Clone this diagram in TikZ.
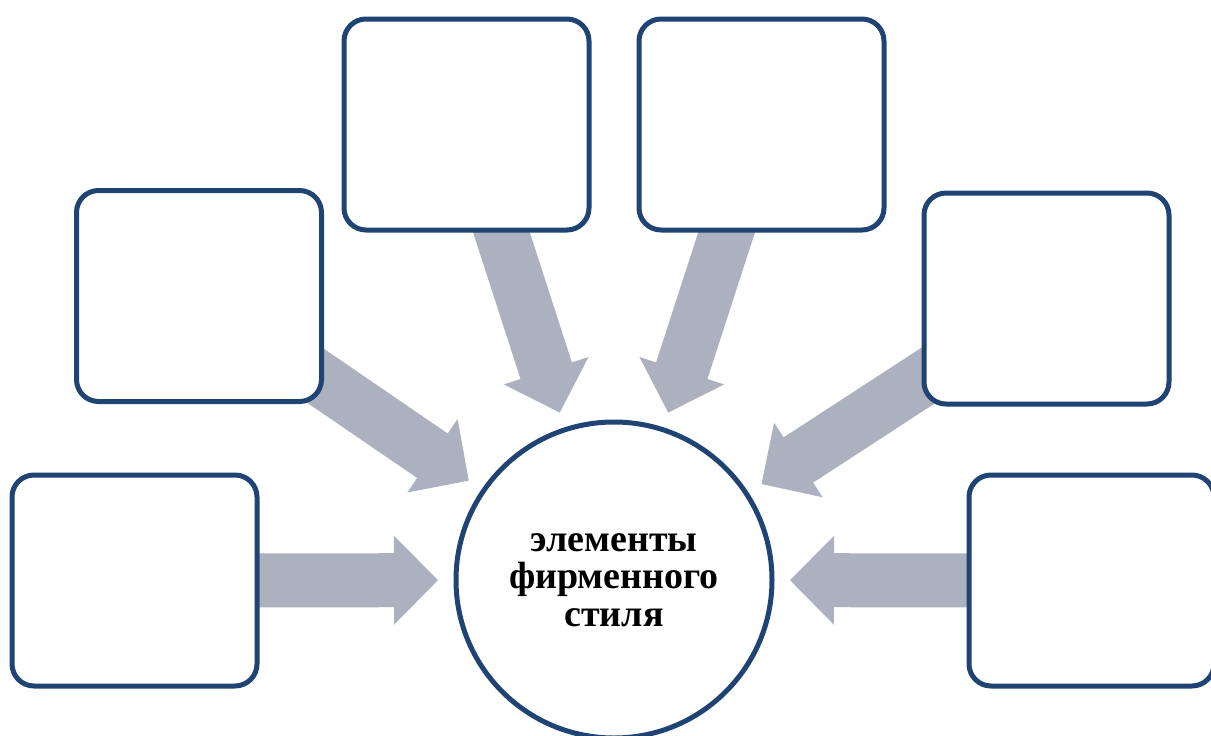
\documentclass[tikz,border=0pt]{standalone}
\usepackage{fontspec}
\setmainfont{Liberation Serif}
\usetikzlibrary{calc,backgrounds}

\definecolor{boxblue}{RGB}{31,67,115}
\definecolor{arrowgray}{RGB}{172,177,191}

\tikzset{
  itembox/.style={draw=boxblue, line width=5pt, fill=white, rounded corners=22pt,
    minimum width=245pt, minimum height=211pt, inner sep=0pt},
  hubcircle/.style={circle, draw=boxblue, line width=5pt, fill=white,
    minimum size=316pt, inner sep=0pt, align=center,
    font=\fontsize{38}{37.5}\selectfont\bfseries},
  arrowfill/.style={fill=arrowgray}
}

% Block arrow from the centre of node #1 towards node #2,
% stopping a little short of the hub's border.
\newcommand{\blockarrow}[2]{%
  \coordinate (tip) at ($(#2.center)!176pt!(#1.center)$);
  \coordinate (base) at ($(tip)!44pt!(#1.center)$);
  \fill[arrowfill]
    ($(#1.center)!27pt!90:(tip)$) --
    ($(base)!27pt!90:(tip)$) --
    ($(base)!44.5pt!90:(tip)$) --
    (tip) --
    ($(base)!44.5pt!-90:(tip)$) --
    ($(base)!27pt!-90:(tip)$) --
    ($(#1.center)!27pt!-90:(tip)$) -- cycle;
}

\begin{document}
\begin{tikzpicture}[x=1pt, y=-1pt]
  \useasboundingbox (0,0) rectangle (1211,736);
  \clip (0,0) rectangle (1211,736);

  % hub
  \node[hubcircle] (hub) at (614,580) {элементы\\фирменного\\стиля};

  % surrounding boxes
  \node[itembox] (topl)  at (466.5,124.5) {};
  \node[itembox] (topr)  at (761.5,124.5) {};
  \node[itembox] (midl)  at (199,296)     {};
  \node[itembox] (midr)  at (1046.5,298.5) {};
  \node[itembox] (botl)  at (134.5,580.5) {};
  \node[itembox] (botr)  at (1091.5,580.5) {};

  % arrows behind the boxes
  \begin{scope}[on background layer]
    \blockarrow{topl}{hub}
    \blockarrow{topr}{hub}
    \blockarrow{midl}{hub}
    \blockarrow{midr}{hub}
    \blockarrow{botl}{hub}
    \blockarrow{botr}{hub}
  \end{scope}
\end{tikzpicture}
\end{document}
